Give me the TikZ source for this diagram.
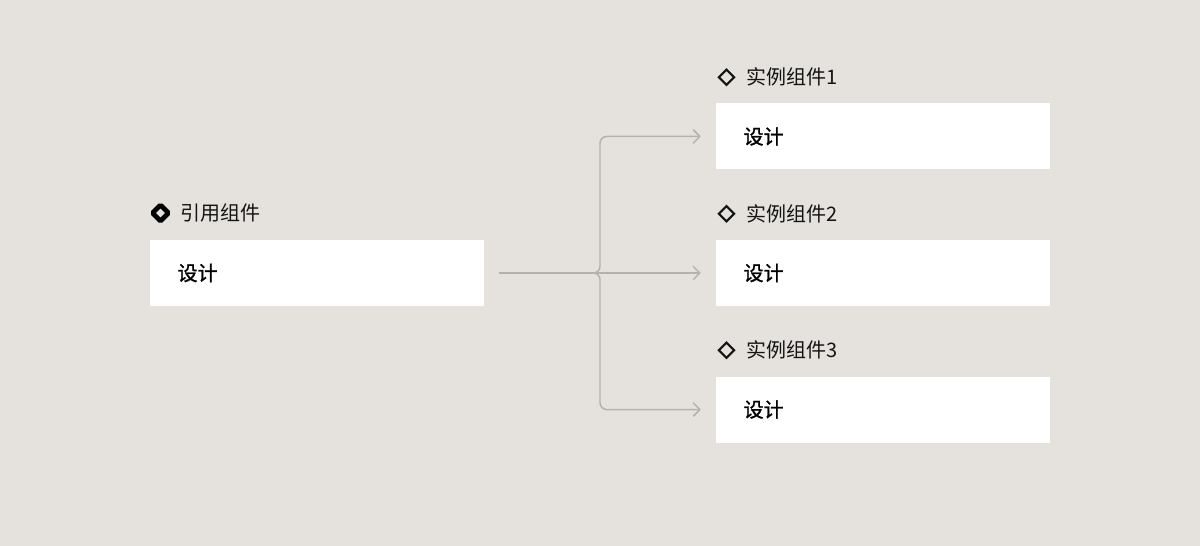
\documentclass[tikz,border=0pt]{standalone}
\usepackage{fontspec}
\setmainfont{Noto Sans CJK SC}
\newfontfamily\midfont[FakeBold=1.2]{Noto Sans CJK SC}
\usepackage{xcolor}
\definecolor{mybg}{RGB}{229, 226, 221}
\definecolor{myline}{RGB}{180, 178, 173}
\definecolor{myink}{RGB}{20, 20, 20}
\usetikzlibrary{
    shapes.geometric,
    arrows.meta,
    positioning
}
\tikzstyle{box} = [
    rectangle,
    minimum height=49.5pt,
    text width=209pt,
    inner xsep=20.5pt,
    inner ysep=0pt,
    align=left,
    fill=white,
    text=black,
    font=\fontsize{15}{18}\midfont
]
\tikzstyle{refmark} = [
    diamond,
    aspect=1,
    draw=black,
    rounded corners=1pt,
    line width=3.6pt,
    minimum size=12pt,
    inner sep=0pt,
    outer sep=0pt
]
\tikzstyle{instmark} = [
    diamond,
    aspect=1,
    draw=myink,
    line width=1.6pt,
    minimum size=11.5pt,
    inner sep=0pt,
    outer sep=0pt
]
\tikzstyle{title} = [
    inner sep=0pt,
    text=myink,
    font=\fontsize{15}{18}\selectfont
]
\tikzstyle{arrow} = [
    draw=myline,
    line width=1.1pt,
    rounded corners=5pt,
    -{Straight Barb[length=5pt,width=10pt,round]}
]

\begin{document}
\begin{tikzpicture}[x=0.75pt, y=0.75pt, node distance=52.5pt and 0pt]

\fill [mybg] (0,0) rectangle (1200,-546);
\useasboundingbox (0,0) rectangle (1200,-546);

\node (ref) [box, anchor=west] at (150,-273) {设计};
\node (inst2) [box, anchor=west] at (716,-273) {设计};
\node (inst1) [box, above=of inst2] {设计};
\node (inst3) [box, below=of inst2] {设计};

% titles above the boxes
\node (refmark1) [refmark, above right=17pt and 4.9pt of ref.north west] {};
\node (reftitle) [title, right=9pt of refmark1] {引用组件};
\foreach \i in {1,2,3} {
    \node (instmark\i) [instmark, above right=16.6pt and 5pt of inst\i.north west] {};
    \node (insttitle\i) [title, right=8.75pt of instmark\i] {实例组件\i};
}

\coordinate (start) at ([xshift=11.6pt]ref.east);
\coordinate (hub) at (594,-273);
\coordinate (in1) at ([xshift=-11.5pt]inst1.west);
\coordinate (in2) at ([xshift=-11.5pt]inst2.west);
\coordinate (in3) at ([xshift=-11.5pt]inst3.west);

\draw [arrow] (start) -- (in2);
\draw [arrow] (hub) -- ++(6,0) |- (in1);
\draw [arrow] (hub) -- ++(6,0) |- (in3);

\end{tikzpicture}
\end{document}
